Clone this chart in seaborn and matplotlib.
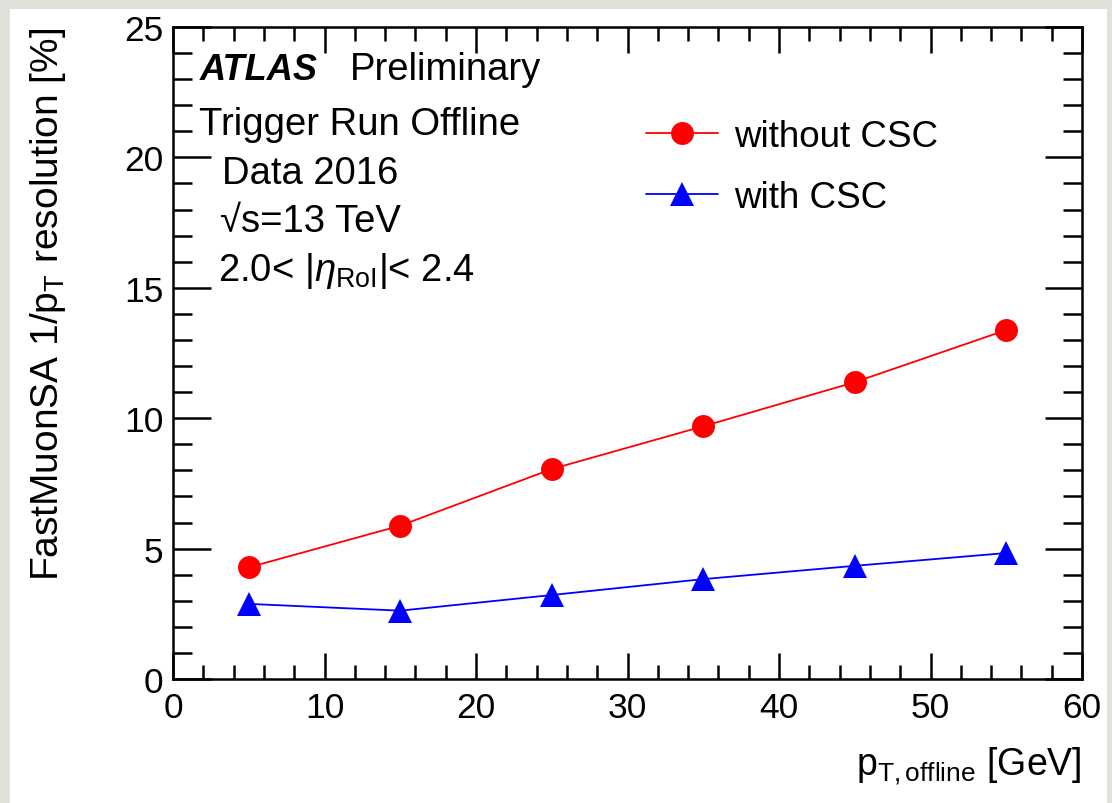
import numpy as np
import pandas as pd
import matplotlib
matplotlib.use("Agg")
import matplotlib.pyplot as plt
import seaborn as sns
from matplotlib.patches import Rectangle
from matplotlib.ticker import MultipleLocator

# data
pt_bins = [5, 15, 25, 35, 45, 55]
res_without_csc = [4.28, 5.88, 8.05, 9.69, 11.38, 13.38]
res_with_csc = [2.88, 2.62, 3.22, 3.83, 4.34, 4.83]
series_labels = ["without CSC", "with CSC"]

df = pd.DataFrame({
    "pt": pt_bins * 2,
    "res": res_without_csc + res_with_csc,
    "sample": [series_labels[0]] * 6 + [series_labels[1]] * 6,
})

sns.set_style("ticks")
plt.rcParams["font.family"] = ["Liberation Sans", "DejaVu Sans"]
plt.rcParams["mathtext.fontset"] = "custom"
plt.rcParams["mathtext.rm"] = "Liberation Sans"
plt.rcParams["mathtext.it"] = "Liberation Sans:italic"
plt.rcParams["mathtext.bf"] = "Liberation Sans:bold"
for key in ["text.color", "axes.labelcolor", "xtick.color", "ytick.color", "axes.edgecolor"]:
    plt.rcParams[key] = "black"

W, H = 1112, 804
fig = plt.figure(figsize=(W / 100, H / 100), dpi=100, facecolor="#e2e0db")
fig.patches.append(Rectangle((10 / W, 0), (1107 - 10) / W, (H - 10) / H,
                             transform=fig.transFigure, facecolor="white",
                             edgecolor="none", zorder=-1))
ax = fig.add_axes([173 / W, 1 - 680 / H, (1082 - 173) / W, (680 - 28) / H])
ax.set_facecolor("white")

sub = df[df["sample"] == series_labels[0]]
sns.lineplot(data=sub, x="pt", y="res", ax=ax, color="red", linewidth=1.3,
             marker="o", markersize=16.5, markeredgewidth=0, label=series_labels[0])
sub = df[df["sample"] == series_labels[1]]
sns.lineplot(data=sub, x="pt", y="res", ax=ax, color="blue", linewidth=1.3,
             marker="^", markersize=17, markeredgewidth=0, label=series_labels[1])

ax.set_xlim(0, 60)
ax.set_ylim(0, 25)
ax.xaxis.set_major_locator(MultipleLocator(10))
ax.xaxis.set_minor_locator(MultipleLocator(2))
ax.yaxis.set_major_locator(MultipleLocator(5))
ax.yaxis.set_minor_locator(MultipleLocator(1))
ax.tick_params(axis="both", which="both", direction="in", top=True, right=True,
               width=1.8, labelsize=25.5)
ax.tick_params(axis="x", which="major", length=19, pad=9)
ax.tick_params(axis="x", which="minor", length=10)
ax.tick_params(axis="y", which="major", length=27, pad=7)
ax.tick_params(axis="y", which="minor", length=14)
for sp in ax.spines.values():
    sp.set_linewidth(1.8)

ax.set_xlabel(r"p$_{\mathrm{T,offline}}$ [GeV]", fontsize=27, loc="right", labelpad=14)
ax.set_ylabel(r"FastMuonSA 1/p$_{\mathrm{T}}$ resolution [%]", fontsize=28,
              loc="top", labelpad=40)

leg = ax.legend(loc="upper left", bbox_to_anchor=(0.504, 0.882), frameon=False,
                fontsize=26.5, handlelength=1.95, handletextpad=0.45, labelspacing=0.72,
                borderaxespad=0)

ft = fig.transFigure
ax.text(200 / W, 1 - 80 / H, "ATLAS", transform=ft, fontsize=26,
        fontweight="bold", fontstyle="italic")
ax.text(350 / W, 1 - 80 / H, "Preliminary", transform=ft, fontsize=27.5)
ax.text(199 / W, 1 - 135 / H, "Trigger Run Offline", transform=ft, fontsize=27.5)
ax.text(222 / W, 1 - 184 / H, "Data 2016", transform=ft, fontsize=27.5)
ax.text(220 / W, 1 - 232 / H, "\u221as=13 TeV", transform=ft, fontsize=27.5)
ax.text(218 / W, 1 - 281 / H, r"2.0< |$\eta_{\mathrm{RoI}}$|< 2.4",
        transform=ft, fontsize=27.5)

fig.savefig("out.png", dpi=100, facecolor=fig.get_facecolor())
